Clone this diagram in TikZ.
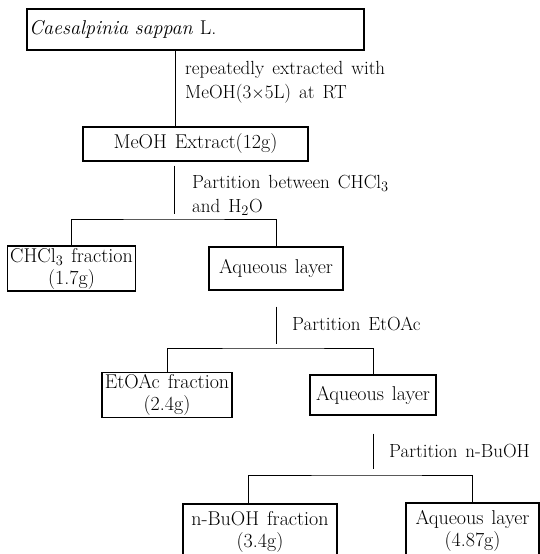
\documentclass[tikz,border=0pt]{standalone}
\usetikzlibrary{positioning}
\tikzset{node distance=10pt,
  box/.style={draw, rectangle, line width=1.2pt, inner sep=2pt, align=center, font={\fontsize{20}{22}\selectfont\spaceskip=0.4em plus 0.1em}},
  lbl/.style={inner sep=0pt, align=left, font={\fontsize{19}{24}\selectfont\spaceskip=0.42em plus 0.1em}},
  link/.style={line width=1pt}}

\begin{document}
\begin{tikzpicture}[x=1pt, y=-1pt]
\useasboundingbox (0,0) rectangle (539,554);

\node[box, minimum width=337pt, minimum height=41pt, text width=333pt, align=left] (src) at (195.5,29.5) {\textit{Caesalpinia sappan} L.};
\node[box, minimum width=225pt, minimum height=34pt] (ext) at (195.5,144) {MeOH Extract(12g)};
\node[box, minimum width=128pt, minimum height=43pt] (chl) at (71.5,268.5) {CHCl$_3$ fraction\\(1.7g)};
\node[box, minimum width=134pt, minimum height=43pt] (aq1) at (276,268.5) {Aqueous layer};
\node[box, minimum width=130pt, minimum height=40pt] (eta) at (167,395) {EtOAc fraction\\(2.4g)};
\node[box, minimum width=126pt, minimum height=40pt] (aq2) at (373,395) {Aqueous layer};
\node[box, minimum width=154pt, minimum height=56pt] (bu) at (260,532) {n-BuOH fraction\\(3.4g)};
\node[box, minimum width=133pt, minimum height=56pt] (aq3) at (472.5,531) {Aqueous layer\\(4.87g)};

\coordinate (j1) at (174,219);
\coordinate (j2) at (276,348);
\coordinate (j3) at (373,475);
\coordinate (m1) at (175,82);
\coordinate (m2) at (174,195.5);
\coordinate (m3) at (276,324);
\coordinate (m4) at (373,451);

\node[lbl] (l1) [right=10pt of m1] {repeatedly extracted with\\MeOH(3{$\times$}5L) at RT};
\node[lbl] (l2) [right=18pt of m2] {Partition between CHCl$_3$\\and H$_2$O};
\node[lbl] (l3) [right=16pt of m3] {Partition EtOAc};
\node[lbl] (l4) [right=16pt of m4] {Partition n-BuOH};

\draw[link] ([xshift=-20.5pt]src.south) -- ([xshift=-20.5pt]ext.north);
\draw[link, shorten <=4pt, shorten >=5pt] ([xshift=-21.5pt]ext.south) -- (j1);
\draw[link] (chl.north) |- (j1) -| (aq1.north);
\draw[link, shorten <=16pt, shorten >=4pt] (aq1.south) -- (j2);
\draw[link] (eta.north) |- (j2) -| (aq2.north);
\draw[link, shorten <=18pt, shorten >=6pt] (aq2.south) -- (j3);
\draw[link] ([xshift=-12pt]bu.north) |- (j3) -| (aq3.north);
\end{tikzpicture}
\end{document}
